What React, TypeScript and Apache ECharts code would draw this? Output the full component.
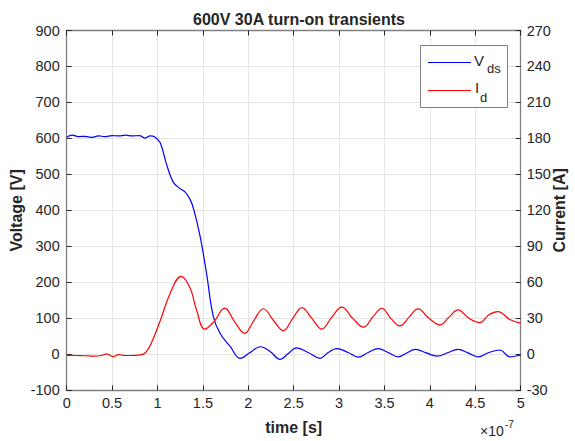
import React, { useEffect, useRef } from "react";
import * as echarts from "echarts";

// time in units of 1e-7 s
const vdsTime = [0, 0.06, 0.13, 0.2, 0.28, 0.35, 0.42, 0.5, 0.57, 0.65, 0.72, 0.8, 0.86, 0.92, 0.97, 1.03, 1.10, 1.17, 1.24, 1.30, 1.36, 1.40, 1.47, 1.54, 1.615, 1.69, 1.80, 1.91, 2.02, 2.13, 2.24, 2.35, 2.44, 2.53, 2.66, 2.79, 2.88, 2.97, 3.10, 3.21, 3.32, 3.43, 3.54, 3.65, 3.74, 3.84, 3.96, 4.08, 4.20, 4.31, 4.42, 4.53, 4.65, 4.77, 4.88, 5.0];
const vdsVolts = [603, 609, 605, 606, 603, 607, 605, 608, 607, 609, 607, 608, 601, 607, 604, 588, 528, 480, 462, 452, 430, 402, 327, 225, 105, 58, 22, -11, 5, 21, 8, -14, 2, 18, 5, -11, 5, 16, 5, -8, 5, 16, 5, -7, 3, 14, 4, -5, 5, 14, 4, -7, 5, 12, -7, -2];

const idTime = [0, 0.1, 0.2, 0.3, 0.38, 0.44, 0.51, 0.57, 0.62, 0.7, 0.81, 0.87, 0.93, 1.03, 1.14, 1.26, 1.36, 1.43, 1.52, 1.62, 1.74, 1.85, 1.96, 2.06, 2.165, 2.28, 2.385, 2.49, 2.59, 2.70, 2.81, 2.92, 3.03, 3.15, 3.27, 3.37, 3.47, 3.57, 3.67, 3.77, 3.87, 3.99, 4.11, 4.21, 4.31, 4.43, 4.55, 4.65, 4.75, 4.88, 5.0];
const idAmps = [-0.8, -1, -1.2, -1.5, -1, 0.3, -2, -0.3, -0.8, -1, -0.5, 1.5, 9, 28, 51, 65, 55, 37, 21, 27, 38.5, 27, 17.5, 28, 38, 28, 19.7, 30, 39, 30, 21, 31, 39.3, 30, 22.6, 31, 38.4, 30, 23.7, 31, 37.9, 30, 24.5, 31, 37, 30, 26.4, 33, 35.6, 29, 26];

const titleText = "600V 30A turn-on transients";
const xName = "time [s]";
const yLeftName = "Voltage [V]";
const yRightName = "Current [A]";

const FONT = "'Liberation Sans', Arial, Helvetica, sans-serif";
const TXT = "#262626";
const AXIS = "#808080";
const GRID = "#e4e4e4";

export default function App() {
  const ref = useRef<HTMLDivElement>(null);
  useEffect(() => {
    if (!ref.current) return;
    const chart = echarts.init(ref.current, undefined, { renderer: "svg" });
    const vds = vdsTime.map((t, i) => [t, vdsVolts[i]]);
    const id = idTime.map((t, i) => [t, idAmps[i]]);
    const tick = { show: true, inside: true, length: 5, lineStyle: { color: TXT, width: 1 } };
    const axisLine = { show: true, onZero: false, lineStyle: { color: AXIS, width: 1.3 } };
    const label = { color: TXT, fontFamily: FONT, fontSize: 14.5 };
    const nameStyle = { color: TXT, fontFamily: FONT, fontSize: 16, fontWeight: "bold" as const };
    const txt = (x: number, y: number, text: string, size: number, extra: any = {}) => ({
      type: "text", x, y, z: 101,
      style: { text, fontSize: size, fontFamily: FONT, fill: TXT, align: "left", verticalAlign: "middle", textAlign: "left", textVerticalAlign: "middle", ...extra },
    });
    chart.setOption({
      animation: false,
      backgroundColor: "#fff",
      title: {
        text: titleText,
        left: 294,
        textAlign: "center",
        top: 6,
        textStyle: { color: TXT, fontFamily: FONT, fontSize: 16, fontWeight: "bold" },
      },
      grid: { left: 66.7, right: 54.3, top: 30.5, bottom: 50.7, containLabel: false, outerBoundsMode: "none" },
      xAxis: [
        {
          type: "value", min: 0, max: 5, interval: 0.5, position: "bottom",
          name: xName, nameLocation: "middle", nameGap: 29, nameMoveOverlap: false, nameTextStyle: nameStyle,
          axisLine, axisTick: tick,
          axisLabel: { ...label, margin: 5 },
          splitLine: { show: true, lineStyle: { color: GRID, width: 1 } },
        },
        {
          type: "value", min: 0, max: 5, interval: 0.5, position: "top",
          axisLine, axisTick: tick, axisLabel: { show: false }, splitLine: { show: false },
        },
      ],
      yAxis: [
        {
          type: "value", min: -100, max: 900, interval: 100, position: "left",
          name: yLeftName, nameLocation: "middle", nameGap: 42, nameMoveOverlap: false, nameRotate: 90, nameTextStyle: nameStyle,
          axisLine, axisTick: tick,
          axisLabel: { ...label, margin: 7 },
          splitLine: { show: true, lineStyle: { color: GRID, width: 1 } },
        },
        {
          type: "value", min: -30, max: 270, interval: 30, position: "right",
          name: yRightName, nameLocation: "middle", nameGap: 31, nameMoveOverlap: false, nameRotate: 90, nameTextStyle: nameStyle,
          axisLine, axisTick: tick,
          axisLabel: { ...label, margin: 6 },
          splitLine: { show: false },
        },
      ],
      series: [
        {
          type: "line", name: "Vds", xAxisIndex: 0, yAxisIndex: 0, data: vds,
          showSymbol: false, smooth: 0.4, lineStyle: { color: "#0000ff", width: 1.2 }, itemStyle: { color: "#0000ff" },
        },
        {
          type: "line", name: "Id", xAxisIndex: 0, yAxisIndex: 1, data: id,
          showSymbol: false, smooth: 0.4, lineStyle: { color: "#ff0000", width: 1.2 }, itemStyle: { color: "#ff0000" },
        },
      ],
      graphic: [
        { type: "rect", z: 100, shape: { x: 420.5, y: 45.5, width: 87, height: 62 }, style: { fill: "#fff", stroke: AXIS, lineWidth: 1 } },
        { type: "line", z: 101, shape: { x1: 428, y1: 62.5, x2: 471, y2: 62.5 }, style: { stroke: "#0000ff", lineWidth: 1.2 } },
        { type: "line", z: 101, shape: { x1: 428, y1: 90.5, x2: 471, y2: 90.5 }, style: { stroke: "#ff0000", lineWidth: 1.2 } },
        txt(474, 60, "V", 15),
        txt(487, 68, "ds", 13),
        txt(475, 87.5, "I", 15),
        txt(480, 97, "d", 13),
        txt(480, 431, "\u00d710", 14),
        txt(505, 424.5, "-7", 10),
      ],
    });
    return () => chart.dispose();
  }, []);
  return <div ref={ref} style={{ position: "absolute", left: 0, top: 0, width: 575, height: 441 }} />;
}
